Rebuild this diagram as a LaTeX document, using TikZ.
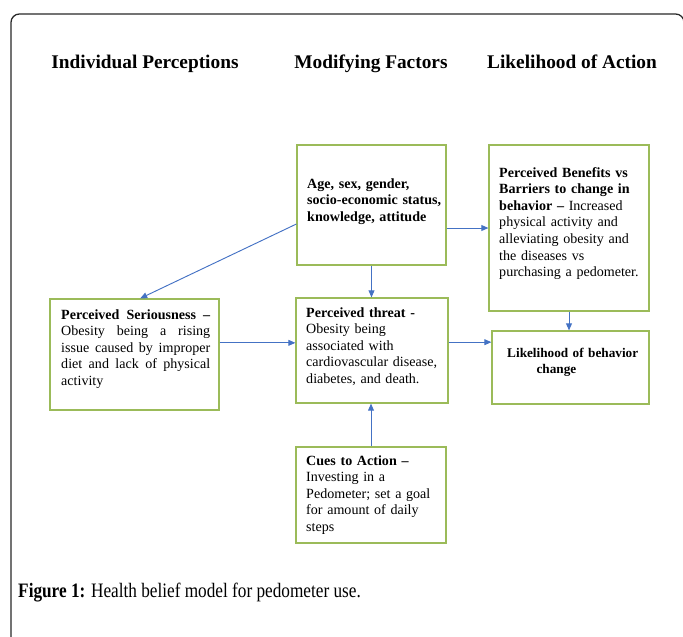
\documentclass[tikz,border=0pt]{standalone}
\usepackage{fontspec}
\setmainfont{Liberation Serif}
\newfontfamily\capfont[FakeStretch=0.84]{Liberation Serif}
\usetikzlibrary{positioning}
\usetikzlibrary{fit}
\usetikzlibrary{arrows.meta}
\definecolor{boxgreen}{RGB}{155,187,89}
\definecolor{arrblue}{RGB}{68,114,196}
\definecolor{framegray}{RGB}{40,40,40}

\begin{document}
\begin{tikzpicture}[x=0.03cm,y=-0.03cm,
  box/.style={draw=boxgreen,line width=1pt,inner sep=0pt},
  txt/.style={inner sep=0pt,anchor=base west,align=left,font=\fontsize{12}{14.2}\selectfont},
  head/.style={inner sep=0pt,anchor=base,font=\fontsize{16.5}{18}\selectfont\bfseries},
  arr/.style={draw=arrblue,line width=0.8pt,-{Triangle[length=6pt,width=5pt]}}]
 \clip (0,0) rectangle (683,636);
 \draw[framegray,line width=1.1pt,rounded corners=0.25cm](11,650)--(11,14)--(684,14)--(684,60);
 % column heads
 \node[head] (hInd) at (145,68) {Individual Perceptions};
 \node[head] (hMod) at (371,68) {Modifying Factors};
 \node[head] (hAct) at (572,68) {Likelihood of Action};
 % boxes
 \node[box,fit={(297,145) (446,265)}] (age) {};
 \node[box,fit={(489,145) (649,311)}] (ben) {};
 \node[box,fit={(50,299) (219,410)}] (ser) {};
 \node[box,fit={(296,298) (448,403)}] (thr) {};
 \node[box,fit={(492,331) (649,404)}] (lik) {};
 \node[box,fit={(296,447) (446,543)}] (cue) {};
 % box texts
 \node[txt,text width=4.2cm] (ageT) at (307,188) {\bfseries Age, sex, gender,\\ socio-economic status,\\ knowledge, attitude};
 \node[txt,text width=4.5cm] (benT) at (499,177) {\textbf{Perceived Benefits vs}\\ \textbf{Barriers to change in}\\ \textbf{behavior --} Increased\\ physical activity and\\ alleviating obesity and\\ the diseases vs\\ purchasing a pedometer.};
 \node[txt,text width=4.47cm,align=justify] (serT) at (61,319) {\textbf{Perceived Seriousness --}\linebreak Obesity being a rising\linebreak issue caused by improper\linebreak diet and lack of physical\linebreak activity};
 \node[txt,text width=4.3cm] (thrT) at (306,317) {\textbf{Perceived threat -}\\ Obesity being\\ associated with\\ cardiovascular disease,\\ diabetes, and death.};
 \node[txt,text width=4.5cm,font=\fontsize{11.3}{14.2}\selectfont] (likT) at (507,357) {\bfseries Likelihood of behavior\\ \hspace*{25pt}change};
 \node[txt,text width=4.3cm] (cueT) at (306,465) {\textbf{Cues to Action --}\\ Investing in a\\ Pedometer; set a goal\\ for amount of daily\\ steps};
 % arrows
 \draw[arr] ([yshift=-0.57cm]age.west) -- ([xshift=0.17cm]ser.north);
 \draw[arr] ([yshift=-0.69cm]age.east) -- ([yshift=-0.69cm]age.east -| ben.west);
 \draw[arr] (age.south) -- (age.south |- thr.north);
 \draw[arr] ([yshift=0.35cm]ser.east) -- ([yshift=0.35cm]ser.east -| thr.west);
 \draw[arr] ([yshift=0.25cm]thr.east) -- ([yshift=0.25cm]thr.east -| lik.west);
 \draw[arr] (ben.south) -- (ben.south |- lik.north);
 \draw[arr] (cue.north) -- (cue.north |- thr.south);
 % caption
 \node[inner sep=0pt,anchor=base west,font=\fontsize{17.5}{20}\capfont] (cap) at (18,597) {\textbf{Figure 1:} Health belief model for pedometer use.};
\end{tikzpicture}
\end{document}
